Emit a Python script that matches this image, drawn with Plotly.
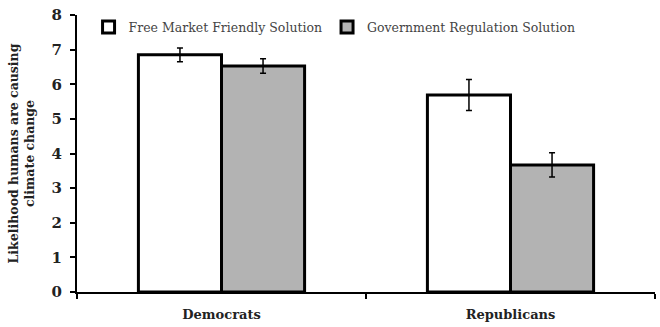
import plotly.graph_objects as go

categories = ["Democrats", "Republicans"]
free_market = [6.85, 5.69]
free_market_err = [0.20, 0.45]
gov_reg = [6.53, 3.67]
gov_reg_err = [0.21, 0.35]
series_names = ["Free Market Friendly Solution", "Government Regulation Solution"]
y_ticks = [0, 1, 2, 3, 4, 5, 6, 7, 8]

fig = go.Figure()
fig.add_trace(go.Bar(
    x=categories, y=free_market, name=series_names[0],
    marker=dict(color="white", line=dict(color="black", width=3)),
    error_y=dict(type="data", array=free_market_err, color="black", thickness=1.5, width=3),
))
fig.add_trace(go.Bar(
    x=categories, y=gov_reg, name=series_names[1],
    marker=dict(color="#b3b3b3", line=dict(color="black", width=3)),
    error_y=dict(type="data", array=gov_reg_err, color="black", thickness=1.5, width=3),
))

fig.update_layout(
    width=660, height=327,
    margin=dict(l=77, r=5, t=15, b=35),
    paper_bgcolor="white", plot_bgcolor="white",
    barmode="group", bargap=0.425, bargroupgap=0,
    font=dict(family="DejaVu Serif", color="#222"),
    showlegend=True,
    legend=dict(orientation="h", x=0.02, y=0.955, xanchor="left", yanchor="middle",
                font=dict(size=12.5, color="#444", family="DejaVu Serif"),
                bgcolor="rgba(0,0,0,0)", itemwidth=30),
    xaxis=dict(
        showline=True, linecolor="black", linewidth=2,
        ticks="outside", tickson="boundaries", ticklen=5, tickwidth=2, tickcolor="black",
        tickfont=dict(size=13, color="#222", family="DejaVu Serif"),
        ticklabelstandoff=9,
        showgrid=False, zeroline=False,
    ),
    yaxis=dict(
        range=[0, 8], tickvals=y_ticks,
        showline=True, linecolor="black", linewidth=2,
        ticks="outside", ticklen=5, tickwidth=2, tickcolor="black",
        tickfont=dict(size=15, color="#222", family="DejaVu Serif"),
        ticklabelstandoff=5,
        showgrid=False, zeroline=False,
        title=dict(text="<b>Likelihood humans are causing<br>climate change</b>",
                   font=dict(size=12.5, color="#222", family="DejaVu Serif"), standoff=14),
    ),
)
fig.update_xaxes(ticktext=["<b>Democrats</b>", "<b>Republicans</b>"], tickvals=categories)
fig.update_yaxes(ticktext=["<b>%d</b>" % v for v in y_ticks])

fig.write_html("out.html")
